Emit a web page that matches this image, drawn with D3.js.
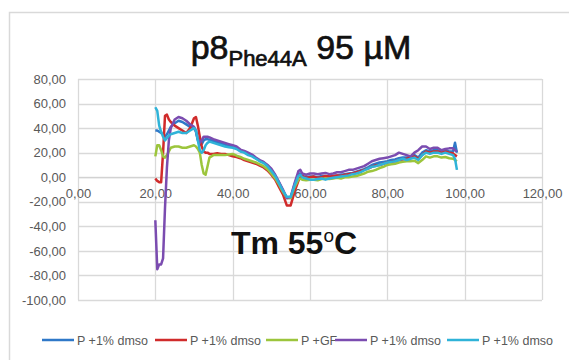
<!DOCTYPE html>
<html><head><meta charset="utf-8">
<script src="https://cdn.jsdelivr.net/npm/d3@7"></script>
<style>body{margin:0;background:#fff}svg{display:block}</style>
</head><body>
<svg id="chart" width="569" height="360"></svg>
<script>
const xValues = [
  20,20.5,21,21.5,22,22.5,23,23.5,24,25,
  26,27,28,29,30,30.5,31,31.5,32,32.5,
  33,33.5,34,35,36,37,38,39,40,41,
  42,43,44,45,46,47,48,49,50,51,
  52,53,54,55,56,57,57.5,58,59,60,
  61,62,63,64,65,66,67,68,69,70,
  71,72,73,74,75,76,77,78,79,80,
  81,82,83,84,85,86,87,88,89,90,
  91,92,93,94,95,96,97,97.5,98];
const blueValues = [
  38,38,37,36,35,33,35,38,41,44,
  46,45,43,41,40,37,30,26,27,30,
  31,31,30.5,29.5,28.5,27.5,26.5,25.5,24.5,23.5,
  21.5,20.5,19,17.5,15.5,13.5,12,9.5,6,1.5,
  -4.5,-11,-17,-17,-6,3,3,1,0,0.5,
  0.5,0,1,1,0.5,1,1.5,2,2.5,3,
  3.5,4.5,5.5,6.5,8,10,11,12,12.5,13,
  14,14.5,15.5,16,16,16.5,18,16,20,22,
  21,22,22,21,22,21,21,28,20];
const redValues = [
  -1,-3,-4,-4,20,50,51,47,45,42,
  40,38,36,40,48,49,42,33,25,21,
  20,20,19,19,19.5,19,19,18,17,16.5,
  15.5,14,13,12,11,9.5,8,5.5,2,-2,
  -8,-14,-23,-23,-12,-3,0,1,-0.5,0,
  0.5,-0.5,0,1,0.5,1,1.5,1,2,2.5,
  3,4,5,6,7,8.5,9.5,10,11,12,
  12.5,13,14,14.5,15,16,17,15,18,21,
  20,21,21,20,21,20,19.5,18,17];
const greenValues = [
  17,26,26,22,17,16,18,21,24,25,
  25,24,24,25,26,25,23,20,10,3,
  2,9,16,18,18,18,18,18.5,19,17.5,
  16.5,15,14,13,12,10.5,9,6.5,3,-1,
  -6,-12,-17,-17,-8,-2,-1,-2,-2.5,-2,
  -2,-2.5,-1.5,-1,-1.5,-1,-0.5,-1,0,0,
  0.5,1,2,3,4.5,5,6,7.5,8.5,10,
  10.5,11,12,12.5,13,13,13.5,11.5,14,17,
  16,17,17,16,16.5,15.5,15,14,13];
const purpleValues = [
  -35,-75,-71,-71,-66,-25,8,30,40,47,
  49,48,46,43,41,38,31,28,30,33,
  33,33,32.5,31,30,29,28,27,26,25,
  22.5,21.5,20,18.5,16,14,12.5,10,7,2,
  -4,-10,-17,-16,-5,5,6,3,2,3,
  3,2.5,3,3.5,2.5,3,4,4,5,6,
  6,7,8,9,11,13,14,15,15.5,16,
  17,18,20,19,18,17,20,22,25,25,
  23,24,24,22,23,23.5,23.5,22,21];
const cyanValues = [
  57,54,42,37,33,30,32,34,35,36,
  37,36,36,38,40,38,30,22,20,22,
  26,28,29,28,27,26,25,24.5,24,23,
  21,20,18,17,15,13,11.5,9,5,1,
  -5,-11,-16,-16,-7,1,2,0,-1,-2,
  -2,-1.5,-1,-2,-1,-0.5,0,0.5,1,1.5,
  2.5,3,4,5.5,7,8.5,9,10,11,12,
  12.5,13,14,15,14,15,16,14,18,20,
  19,20,20,19,20,19,18,15,6];
const seriesNames = ["P +1% dmso","P +1% dmso","P +GF","P +1% dmso","P +1% dmso"];
const seriesColors = ["#2f78c8","#d02b2b","#9cc53c","#7b4cb0","#2fb3d8"];
const xTicks = [0,20,40,60,80,100,120];
const yTicks = [80,60,40,20,0,-20,-40,-60,-80,-100];

const allSeries = [blueValues, redValues, greenValues, purpleValues, cyanValues];
const svg = d3.select("#chart");
const fmt = v => d3.format(".2f")(v).replace(".", ",").replace("−","-");
const FONT = "Liberation Sans, Arial, sans-serif";

// outer frame
svg.append("rect").attr("x",9.5).attr("y",12.5).attr("width",620).attr("height",400)
  .attr("fill","#fff").attr("stroke","#d9d9d9").attr("stroke-width",1.5);

const x = d3.scaleLinear().domain([0,120]).range([78,542]);
const y = d3.scaleLinear().domain([-100,80]).range([300,79]);

// gridlines
svg.append("g").selectAll("line").data(yTicks).join("line")
  .attr("x1",x(0)).attr("x2",x(120)).attr("y1",d=>Math.round(y(d))+0.5).attr("y2",d=>Math.round(y(d))+0.5)
  .attr("stroke","#d9d9d9").attr("stroke-width",1.3);
svg.append("g").selectAll("line").data(xTicks).join("line")
  .attr("y1",y(80)).attr("y2",y(-100)).attr("x1",d=>Math.round(x(d))+0.5).attr("x2",d=>Math.round(x(d))+0.5)
  .attr("stroke","#d9d9d9").attr("stroke-width",1.3);

// y axis labels
const yAxis = d3.axisLeft(y).tickValues(yTicks).tickFormat(fmt).tickSize(0).tickPadding(12);
const gy = svg.append("g").attr("transform",`translate(${x(0)},0)`).call(yAxis);
gy.select(".domain").remove();
gy.selectAll("text").attr("fill","#595959").style("font-family",FONT).style("font-size","13px");

// x axis at y = 0
const xAxis = d3.axisBottom(x).tickValues(xTicks).tickFormat(fmt).tickSize(0).tickPadding(12);
const gx = svg.append("g").attr("transform",`translate(0,${y(0)})`).call(xAxis);
gx.select(".domain").attr("stroke","#d0d0d0");
gx.selectAll("text").attr("fill","#595959").style("font-family",FONT).style("font-size","13px");

// lines
const line = d3.line().x((d,i)=>x(xValues[i])).y(d=>y(d)).curve(d3.curveLinear);
allSeries.forEach((vals,k)=>{
  svg.append("path").datum(vals).attr("d",line).attr("fill","none")
    .attr("stroke",seriesColors[k]).attr("stroke-width",2.5).attr("stroke-linejoin","round");
});

// title
const title = svg.append("text").attr("x",301).attr("y",59).attr("text-anchor","middle")
  .style("font-family",FONT).style("font-size","34px").attr("fill","#111")
  .attr("stroke","#111").attr("stroke-width",0.7);
title.append("tspan").text("p8");
title.append("tspan").attr("dy",7).style("font-size","22px").text("Phe44A");
title.append("tspan").attr("dy",-7).text(" 95 \u00b5M");

// Tm annotation
const tm = svg.append("text").attr("x",294).attr("y",254).attr("text-anchor","middle")
  .style("font-family",FONT).style("font-size","32px").style("font-weight","bold").attr("fill","#111");
tm.append("tspan").text("Tm 55");
tm.append("tspan").attr("dy",-12).style("font-size","19px").style("font-weight","normal").text("o");
tm.append("tspan").attr("dy",12).text("C");

// legend
const legendX = [42,155,266,335,447];
const lg = svg.append("g");
seriesNames.forEach((name,k)=>{
  lg.append("line").attr("x1",legendX[k]).attr("x2",legendX[k]+32).attr("y1",340).attr("y2",340)
    .attr("stroke",seriesColors[k]).attr("stroke-width",2.5);
  lg.append("text").attr("x",legendX[k]+35).attr("y",344.5).text(name).attr("fill","#595959")
    .style("font-family",FONT).style("font-size","12.5px");
});
</script>
</body></html>
